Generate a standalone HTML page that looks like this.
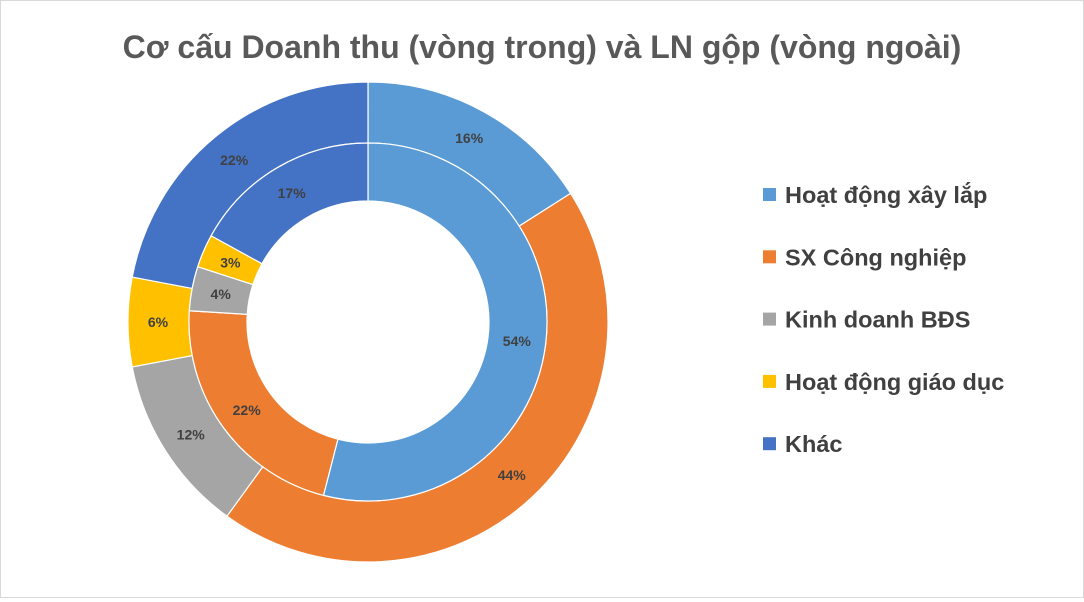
<!DOCTYPE html>
<html><head><meta charset="utf-8"><style>
body{margin:0;background:#fff}
#wrap{position:relative;width:1082px;height:596px;border:1px solid #d9d9d9;background:#fff;font-family:"Liberation Sans",sans-serif}
</style></head><body>
<div id="wrap">
<svg id="chart" width="1082" height="596">
<text x="541" y="57" text-anchor="middle" font-size="32" font-weight="bold" fill="#595959" font-family="Liberation Sans, sans-serif">Cơ cấu Doanh thu (vòng trong) và LN gộp (vòng ngoài)</text>
</svg>
</div>
<script>
const categories=["Hoạt động xây lắp","SX Công nghiệp","Kinh doanh BĐS","Hoạt động giáo dục","Khác"];
const innerValues=[54,22,4,3,17];
const outerValues=[16,44,12,6,22];
const colors=["#5b9bd5","#ed7d31","#a5a5a5","#ffc000","#4472c4"];
const svg=document.getElementById('chart');
const NS='http://www.w3.org/2000/svg';
const cx=367,cy=321;
function pt(a,r){return [cx+r*Math.sin(a),cy-r*Math.cos(a)];}
function ring(vals,r0,r1,lr,name){
  const tot=vals.reduce((a,b)=>a+b,0);let a=0;
  vals.forEach((v,i)=>{
    const a1=a+v/tot*2*Math.PI;
    const [x0,y0]=pt(a,r1),[x1,y1]=pt(a1,r1),[x2,y2]=pt(a1,r0),[x3,y3]=pt(a,r0);
    const lg=(a1-a)>Math.PI?1:0;
    const p=document.createElementNS(NS,'path');
    p.setAttribute('d',`M${x0},${y0}A${r1},${r1} 0 ${lg} 1 ${x1},${y1}L${x2},${y2}A${r0},${r0} 0 ${lg} 0 ${x3},${y3}Z`);
    p.setAttribute('fill',colors[i]);p.setAttribute('stroke','#fff');p.setAttribute('stroke-width','1.2');
    
    
    svg.appendChild(p);
    const [lx,ly]=pt((a+a1)/2,lr);
    const t=document.createElementNS(NS,'text');
    t.setAttribute('x',lx);t.setAttribute('y',ly+5);t.setAttribute('text-anchor','middle');
    t.setAttribute('font-size','14');t.setAttribute('font-weight','bold');t.setAttribute('fill','#404040');
    t.textContent=v+'%';
    
    
    svg.appendChild(t);
    a=a1;
  });
}
ring(outerValues,179,240,210,'outer');
ring(innerValues,121,179,150,'inner');
categories.forEach((c,i)=>{
  const y=194+i*62.3;
  const r=document.createElementNS(NS,'rect');
  r.setAttribute('x',762);r.setAttribute('y',y-7);r.setAttribute('width',13);r.setAttribute('height',13);r.setAttribute('fill',colors[i]);
  
  
  svg.appendChild(r);
  const t=document.createElementNS(NS,'text');
  t.setAttribute('x',784);t.setAttribute('y',y+8);t.setAttribute('font-size','23.5');t.setAttribute('font-weight','bold');t.setAttribute('fill','#404040');
  t.textContent=c;
  
  
  svg.appendChild(t);
});
</script>
</body></html>
